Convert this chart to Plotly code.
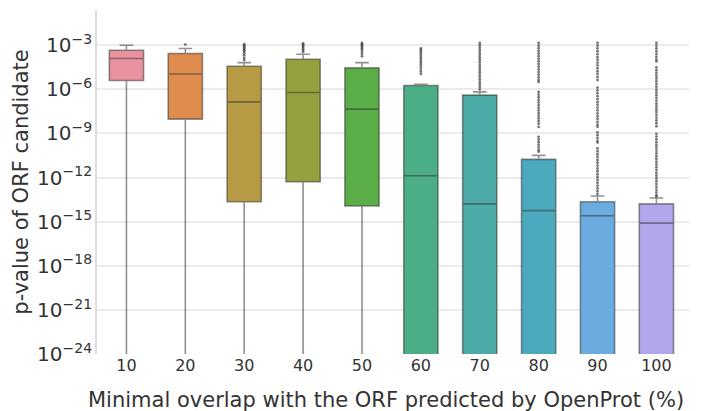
import plotly.graph_objects as go

# Data (log10 of p-values)
categories = ["10", "20", "30", "40", "50", "60", "70", "80", "90", "100"]
q3_log = [-3.34, -3.56, -4.43, -3.95, -4.54, -5.74, -6.39, -10.76, -13.64, -13.79]
median_log = [-3.9, -4.95, -6.85, -6.21, -7.34, -11.87, -13.79, -14.25, -14.6, -15.1]
q1_log = [-5.4, -8.02, -13.64, -12.28, -13.93, -26.0, -26.0, -26.0, -26.0, -26.0]
upper_whisker_log = [-3.0, -3.22, -4.18, -3.61, -4.18, -5.65, -6.17, -10.49, -13.25, -13.39]
lower_whisker_log = [-30.0] * 10

outliers_log = {
    "10": [],
    "20": [-2.95],
    "30": [-2.92, -3.0, -3.08, -3.16, -3.24, -3.33, -3.42, -3.55, -3.68, -3.85, -4.0],
    "40": [-2.88, -2.95, -3.03, -3.12, -3.22, -3.33, -3.45],
    "50": [-2.84, -2.92, -3.0, -3.1, -3.2, -3.32, -3.45, -3.6, -3.75],
    "60": [-3.22, -3.32, -3.45, -3.58, -3.72, -3.86, -4.0, -4.15, -4.3, -4.45, -4.6, -4.78, -4.95],
    "70": [-2.84, -3.0, -3.16, -3.33, -3.5, -3.66, -3.83, -4.0, -4.16, -4.33, -4.5, -4.66,
           -4.83, -5.0, -5.16, -5.33, -5.5, -5.66, -5.83, -6.0],
    "80": [-2.84, -3.02, -3.2, -3.38, -3.56, -3.74, -3.92, -4.1, -4.28, -4.46, -4.64, -4.82,
           -5.0, -5.18, -5.36, -5.49, -6.17, -6.35, -6.53, -6.71, -6.89, -7.07, -7.25, -7.43,
           -7.61, -7.79, -7.97, -8.15, -8.33, -8.55, -9.23, -9.41, -9.59, -9.77, -9.95,
           -10.13, -10.24],
    "90": [-2.84, -3.02, -3.21, -3.4, -3.6, -3.79, -3.98, -4.18, -4.37, -4.57, -4.76, -4.95,
           -5.15, -5.36, -5.88, -6.07, -6.27, -6.46, -6.66, -6.85, -7.04, -7.24, -7.43, -7.63,
           -7.82, -8.01, -8.21, -8.4, -8.55, -8.92, -9.12, -9.31, -9.5, -9.62, -10.02, -10.21,
           -10.41, -10.6, -10.8, -10.99, -11.18, -11.38, -11.57, -11.77, -11.96, -12.15,
           -12.35, -12.54, -12.74, -12.93, -13.12],
    "100": [-2.84, -3.03, -3.22, -3.41, -3.6, -3.79, -3.98, -4.1, -4.5, -4.69, -4.88, -5.07,
            -5.26, -5.45, -5.64, -5.83, -6.02, -6.21, -6.4, -6.59, -6.78, -6.97, -7.16, -7.35,
            -7.54, -7.73, -7.92, -8.11, -8.3, -8.5, -9.02, -9.21, -9.4, -9.59, -9.78, -9.97,
            -10.16, -10.35, -10.54, -10.73, -10.92, -11.11, -11.3, -11.49, -11.68, -11.87,
            -12.06, -12.25, -12.44, -12.63, -12.82, -13.01, -13.2, -13.3],
}

colors = ["#E8929F", "#DF8C4E", "#B69A44", "#97A03F", "#5BAE47",
          "#4BAE87", "#4BAAA6", "#4BAABE", "#6AACE0", "#B3A6EA"]

x_title = "Minimal overlap with the ORF predicted by OpenProt (%)"
y_title = "p-value of ORF candidate"

FONT = "DejaVu Sans"

fig = go.Figure()
for i, cat in enumerate(categories):
    fig.add_trace(go.Box(
        x=[cat],
        q1=[10 ** q1_log[i]],
        median=[10 ** median_log[i]],
        q3=[10 ** q3_log[i]],
        lowerfence=[10 ** lower_whisker_log[i]],
        upperfence=[10 ** upper_whisker_log[i]],
        fillcolor=colors[i],
        line=dict(color="rgba(55,55,55,0.55)", width=1.6),
        whiskerwidth=0.4,
        boxpoints=False,
        showlegend=False,
        hoverinfo="skip",
    ))
    pts = outliers_log[cat]
    if pts:
        fig.add_trace(go.Scatter(
            x=[cat] * len(pts),
            y=[10 ** v for v in pts],
            mode="markers",
            marker=dict(color="rgba(60,60,60,0.7)", size=2.8),
            showlegend=False,
            hoverinfo="skip",
        ))

fig.update_layout(
    width=703, height=411,
    margin=dict(l=97, r=14, t=10, b=57),
    paper_bgcolor="white",
    plot_bgcolor="white",
    boxmode="overlay",
    boxgap=0.17,
    font=dict(family=FONT, color="#333333"),
    annotations=[dict(
        text=x_title, xref="paper", yref="paper",
        x=0.488, y=-0.093, xanchor="center", yanchor="top",
        showarrow=False, font=dict(size=21, color="#333333"),
    )],
)
fig.update_xaxes(
    type="category",
    categoryorder="array", categoryarray=categories,
    showgrid=False, showline=False, ticks="",
    tickfont=dict(size=16, color="#333333"),
    ticklabelstandoff=0,
)
fig.update_yaxes(
    type="log",
    range=[-24, -0.6],
    dtick=3,
    exponentformat="power",
    showgrid=True, gridcolor="#EBEBEB", gridwidth=1.5,
    showline=True, linecolor="#DDDDDD", linewidth=1.5,
    zeroline=False, ticks="",
    tickfont=dict(size=16, color="#333333"),
    ticklabelstandoff=0,
    title=dict(text=y_title, font=dict(size=21, color="#333333"), standoff=3),
)

fig.write_html("out.html", config={"displayModeBar": False},
               post_script="document.body.style.margin='0';")
